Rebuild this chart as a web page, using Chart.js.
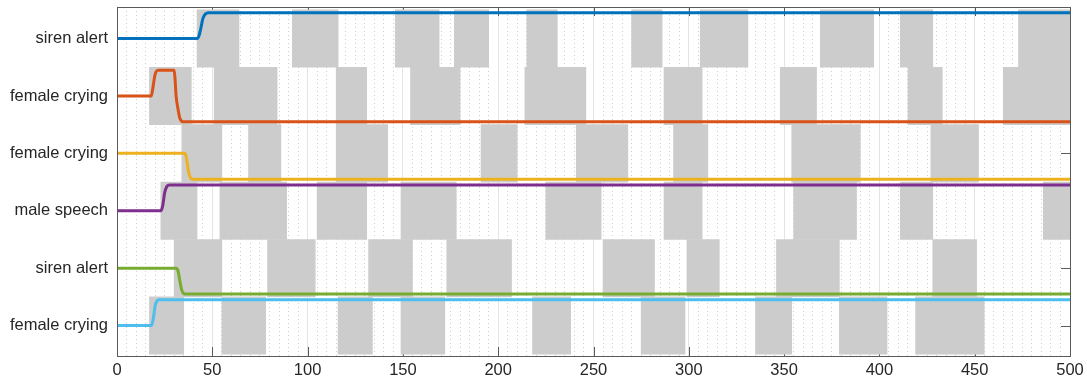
<!DOCTYPE html>
<html>
<head>
<meta charset="utf-8">
<script src="https://cdn.jsdelivr.net/npm/chart.js@4/dist/chart.umd.min.js"></script>
<style>
  html, body { margin: 0; padding: 0; background: #fff; }
  #wrap { width: 1087px; height: 381px; position: relative; }
</style>
</head>
<body>
<div id="wrap"><canvas id="c"></canvas></div>
<script>
// row labels, top to bottom
var rowNames = ['siren alert', 'female crying', 'female crying', 'male speech', 'siren alert', 'female crying'];

// gray segments per row, [start, end] in frames
var seg1 = [[42, 64], [92, 116], [146, 169], [177, 195], [215, 231], [270, 286], [306, 331], [369, 397], [411, 428], [473, 500]];
var seg2 = [[17, 39], [51, 84], [115, 131], [154, 180], [214, 246], [287, 307], [348, 367], [415, 433], [465, 500]];
var seg3 = [[34, 55], [69, 86], [115, 142], [191, 210], [241, 268], [292, 310], [354, 390], [427, 452]];
var seg4 = [[23, 42], [54, 89], [105, 131], [149, 178], [225, 254], [287, 307], [355, 388], [411, 428], [486, 500]];
var seg5 = [[30, 55], [79, 104], [132, 155], [173, 207], [255, 282], [299, 316], [346, 379], [428, 451]];
var seg6 = [[17, 35], [55, 78], [116, 134], [149, 172], [218, 238], [275, 298], [335, 354], [379, 404], [419, 455]];

// detector output per row (time, probability 0..1)
var t1 = [0, 42, 43, 44, 45, 46, 47, 48, 500];
var p1 = [0.5, 0.5, 0.55, 0.7, 0.88, 0.96, 0.99, 1, 1];
var t2 = [0, 18, 19, 20, 21, 22, 30, 30.5, 31, 32, 33, 34, 35, 500];
var p2 = [0.5, 0.5, 0.7, 0.92, 0.99, 1, 1, 0.8, 0.5, 0.25, 0.07, 0.01, 0, 0];
var t3 = [0, 35.5, 36.5, 37.5, 38.5, 39.5, 500];
var p3 = [0.5, 0.5, 0.4, 0.15, 0.03, 0, 0];
var t4 = [0, 23, 24, 25, 26, 27, 28, 500];
var p4 = [0.5, 0.5, 0.6, 0.85, 0.96, 0.995, 1, 1];
var t5 = [0, 31, 32, 33, 34, 35, 36, 500];
var p5 = [0.5, 0.5, 0.45, 0.25, 0.07, 0.01, 0, 0];
var t6 = [0, 18, 19, 20, 21, 22, 500];
var p6 = [0.5, 0.5, 0.62, 0.88, 0.98, 1, 1];

var xTickStep = 50;
var colors = ['#0072BD', '#D95319', '#EDB120', '#7E2F8E', '#77AC30', '#4DBEEE'];
var FONT = "'Liberation Sans', Arial, Helvetica, sans-serif";
var AXIS = '#5a5a5a';

var segs = [seg1, seg2, seg3, seg4, seg5, seg6];
var times = [t1, t2, t3, t4, t5, t6];
var probs = [p1, p2, p3, p4, p5, p6];

function rowBase(r) { return rowNames.length - 1 - r; }
function rowCenter(r) { return rowBase(r) + 0.5; }

var barData = [];
segs.forEach(function (s, r) {
  s.forEach(function (b) { barData.push({ x: b, y: rowCenter(r) }); });
});

var datasets = [{
  type: 'bar', data: barData, backgroundColor: '#cccccc', borderWidth: 0,
  barPercentage: 1, categoryPercentage: 1, order: 5
}];
times.forEach(function (t, r) {
  datasets.push({
    type: 'line', indexAxis: 'x',
    data: t.map(function (v, i) { return { x: v, y: rowBase(r) + 0.05 + 0.9 * probs[r][i] }; }),
    borderColor: colors[r], borderWidth: 3, pointRadius: 0, fill: false,
    cubicInterpolationMode: 'monotone', order: 0
  });
});

// ticks drawn under the segments, axis box on top
var axisBox = {
  id: 'axisBox',
  beforeDatasetsDraw: function (c) {
    var ctx = c.ctx, a = c.chartArea, x = c.scales.x, y = c.scales.y;
    ctx.save();
    ctx.strokeStyle = AXIS; ctx.lineWidth = 1;
    ctx.beginPath();
    for (var v = 0; v <= 500; v += xTickStep) {
      var px = Math.round(x.getPixelForValue(v)) + 0.5;
      ctx.moveTo(px, a.bottom); ctx.lineTo(px, a.bottom - 9);
      ctx.moveTo(px, a.top); ctx.lineTo(px, a.top + 9);
    }
    rowNames.forEach(function (n, r) {
      var py = Math.round(y.getPixelForValue(rowCenter(r))) + 0.5;
      ctx.moveTo(a.right, py); ctx.lineTo(a.right - 9, py);
    });
    ctx.stroke();
    ctx.restore();
  },
  afterDatasetsDraw: function (c) {
    var ctx = c.ctx, a = c.chartArea;
    ctx.save();
    ctx.strokeStyle = AXIS; ctx.lineWidth = 1;
    ctx.strokeRect(Math.round(a.left) + 0.5, Math.round(a.top) + 0.5,
      Math.round(a.right) - Math.round(a.left), Math.round(a.bottom) - Math.round(a.top));
    ctx.restore();
  }
};

new Chart(document.getElementById('c').getContext('2d'), {
  type: 'bar',
  data: { datasets: datasets },
  plugins: [axisBox],
  options: {
    indexAxis: 'y',
    responsive: true, maintainAspectRatio: false, animation: false,
    layout: { padding: { top: 7, right: 17, left: 0, bottom: 0 } },
    plugins: { legend: { display: false }, tooltip: { enabled: false } },
    scales: {
      x: {
        type: 'linear', min: 0, max: 500, offset: false,
        afterFit: function (s) { s.height = 25; s.paddingLeft = 0; s.paddingRight = 0; },
        ticks: {
          stepSize: 5, autoSkip: false, maxRotation: 0, padding: 5,
          color: '#262626', font: { family: FONT, size: 16.5 },
          callback: function (v) { return v % xTickStep === 0 ? v : ''; }
        },
        grid: {
          drawTicks: false, offset: false,
          color: function (ctx) { return ctx.tick && ctx.tick.value % xTickStep === 0 ? '#e4e4e4' : '#cfcfcf'; }
        },
        border: {
          display: false,
          dash: function (ctx) { return ctx.tick && ctx.tick.value % xTickStep === 0 ? [] : [1, 3]; }
        }
      },
      y: {
        type: 'linear', min: -0.03, max: 6.05, offset: false,
        afterFit: function (s) { s.width = 117; s.paddingTop = 0; s.paddingBottom = 0; },
        afterBuildTicks: function (s) {
          s.ticks = rowNames.map(function (n, r) { return { value: rowCenter(r) }; });
        },
        ticks: {
          padding: 9, color: '#262626', font: { family: FONT, size: 16.5 },
          callback: function (v) {
            var r = rowNames.length - 1 - Math.floor(v);
            return rowNames[r];
          }
        },
        grid: { display: false, drawTicks: false, offset: false },
        border: { display: false }
      }
    }
  }
});
</script>
</body>
</html>
